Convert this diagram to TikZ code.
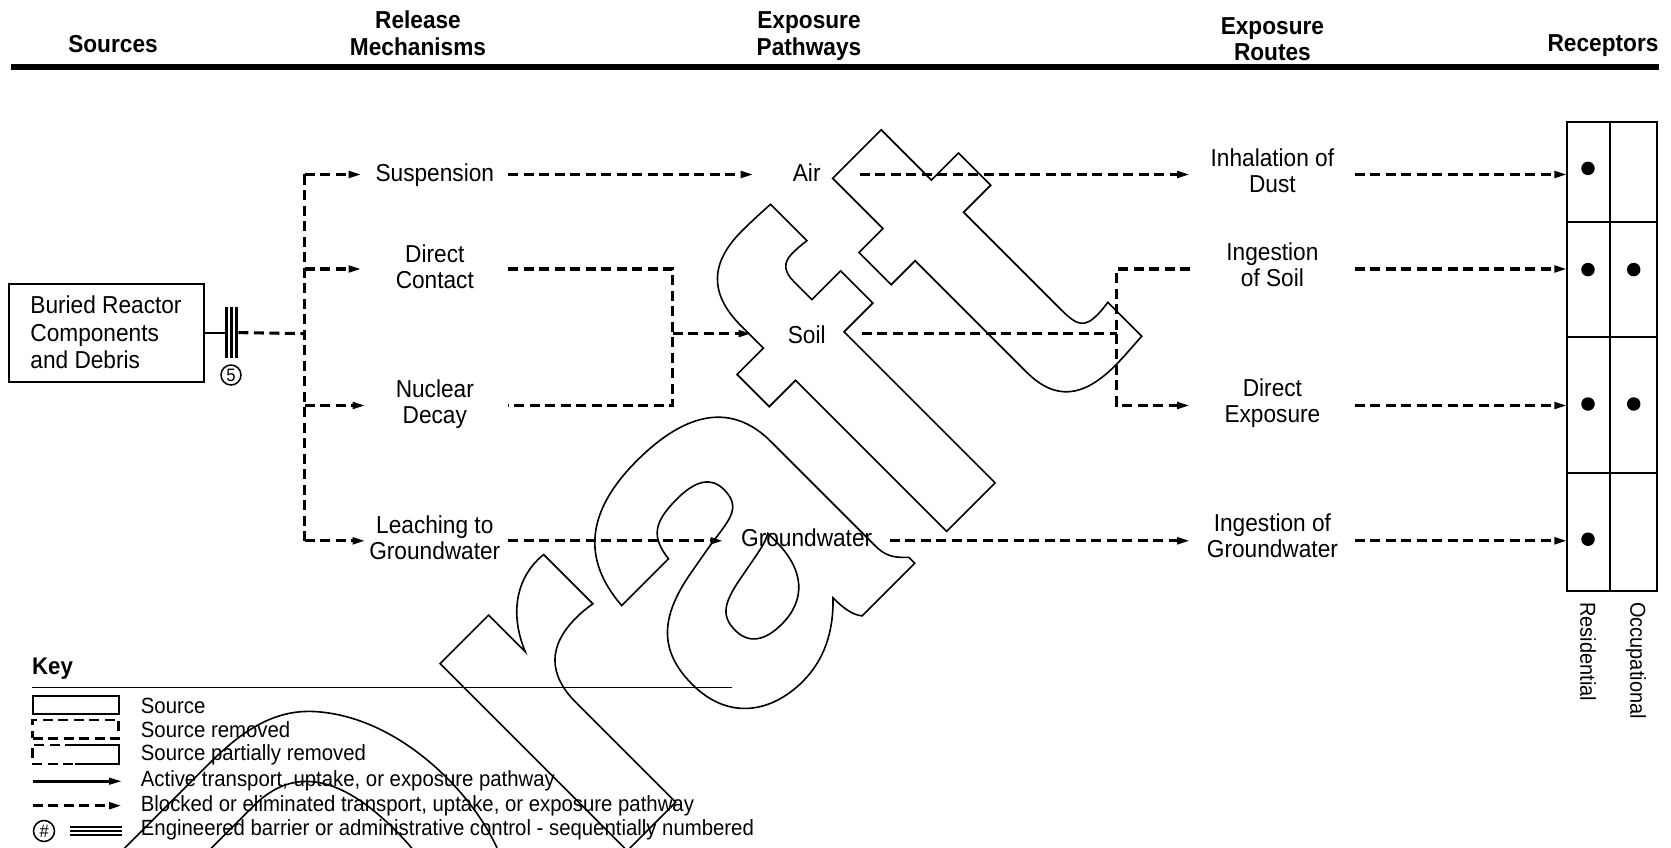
\documentclass[tikz,border=0pt]{standalone}
\usepackage{fontspec}
\setmainfont{Liberation Sans}[FakeStretch=0.925]
\newfontfamily\wmfont{TeX Gyre Heros}
\usetikzlibrary{arrows.meta}
% stroke-only text for the watermark
\newcommand\outlined[1]{\special{pdf:literal direct 1 Tr 1.6 w}#1\special{pdf:literal direct 0 Tr}}

\begin{document}
\begin{tikzpicture}[x=1pt,y=-1pt,
  body/.style={font=\fontsize{24.5}{26}\selectfont, align=center, inner sep=0pt},
  head/.style={font=\bfseries\fontsize{24.5}{26.7}\selectfont, align=center, inner sep=0pt},
  keytext/.style={font=\fontsize{22}{24}\selectfont, anchor=west, inner sep=0pt},
  relcol/.style={body, minimum width=146pt},
  routecol/.style={body, minimum width=164pt},
  dl/.style={line width=3.1pt, dash pattern=on 10pt off 5.5pt},
  dla/.style={dl, -{Triangle[length=13pt,width=6.5pt]}},
  sla/.style={line width=2.6pt, -{Triangle[length=13pt,width=6.5pt]}},
  solidline/.style={line width=2pt},
  gridline/.style={line width=2pt},
  dot/.style={circle, fill, inner sep=0pt, minimum size=13.5pt},
  numcirc/.style={circle, draw, line width=1.5pt, inner sep=0pt, minimum size=20pt},
]
\useasboundingbox (0,0) rectangle (1671,848);

% watermark
\begin{scope}
  \clip (0,0) rectangle (1671,848);
  \node[rotate=45, anchor=base west, inner sep=0pt,
        font=\wmfont\bfseries\fontsize{490}{490}\selectfont] (wm) at (337.4,1140.6)
        {\outlined{D\kern25pt r\kern-10pt a\kern-15pt ft}};
\end{scope}

% column headings
\node[head] (hsrc)   at (113,44)     {Sources};
\node[head] (hrel)   at (418,33.5)   {Release\\Mechanisms};
\node[head] (hpath)  at (809,36.3)   {Exposure\\Pathways};
\node[head] (hroute) at (1272.4,39.3){Exposure\\Routes};
\node[head] (hrec)   at (1603,46)    {Receptors};
\draw[line width=5.5pt] (10.7,67) -- (1659,67);

% row levels of the connectors
\coordinate (r1) at (0,174.5);
\coordinate (r2) at (0,269);
\coordinate (r3) at (0,333.6);
\coordinate (r4) at (0,405.5);
\coordinate (r5) at (0,540.8);

% source and barrier
\node[body, align=left, draw, line width=2pt, minimum width=195pt, minimum height=98pt,
      font=\fontsize{24.5}{27.5}\selectfont] (src) at (106,332.5)
      {Buried Reactor\\Components\\and Debris};
\node[inner sep=0pt, minimum width=13pt, minimum height=51pt] (bar) at (231.7,332.6) {};
\foreach \dx in {1.5,6.5,11.5}
  \draw[line width=2.7pt] ([xshift=\dx pt]bar.north west) -- ([xshift=\dx pt]bar.south west);
\node[numcirc, font=\fontsize{18}{18}\selectfont] (n5) at (231,375) {5};

% release mechanisms
\node[relcol] (susp)  at (434.8,174.8) {Suspension};
\node[relcol] (dcon)  at (434.8,267)   {Direct\\Contact};
\node[relcol] (ndec)  at (434.8,404.5) {Nuclear\\Decay};
\node[relcol] (leach) at (434.8,537.7) {Leaching to\\Groundwater};

% exposure pathways
\node[body, minimum width=106pt] (air)  at (806.7,172.6) {Air};
\node[body, minimum width=110pt] (soil) at (806.7,334.6) {Soil};
\node[body, minimum width=166pt] (gw)   at (806.7,538.2) {Groundwater};

% exposure routes
\node[routecol] (inh)  at (1272.4,170.3) {Inhalation of\\Dust};
\node[routecol] (ings) at (1272.4,264.5) {Ingestion\\of Soil};
\node[routecol] (dexp) at (1272.4,403.5) {Direct\\Exposure};
\node[routecol] (ingw) at (1272.4,535.5) {Ingestion of\\Groundwater};

% receptor table
\node[inner sep=0pt, minimum width=89.6pt, minimum height=467.8pt] (grid) at (1612.4,356.5) {};
\draw[gridline] (grid.north west) rectangle (grid.south east);
\draw[gridline] (1610.3,122.6) -- (1610.3,590.4);
\foreach \yy in {221.7,336.8,473.2}
  \draw[gridline] (1567.6,\yy) -- (1657.2,\yy);
\node[dot] (d1r) at (1588,168.4) {};
\node[dot] (d2r) at (1588,269.6) {};
\node[dot] (d2o) at (1633.7,269.6) {};
\node[dot] (d3r) at (1588,404) {};
\node[dot] (d3o) at (1633.7,404) {};
\node[dot] (d4r) at (1588,539.2) {};
\node[font=\fontsize{21.6}{22}\selectfont, inner sep=0pt, rotate=-90, anchor=west] (resi) at (1588,602) {Residential};
\node[font=\fontsize{21.6}{22}\selectfont, inner sep=0pt, rotate=-90, anchor=west] (occu) at (1636,602) {Occupational};

% source to release mechanisms
\coordinate (ttop) at (304.8,174.5);
\coordinate (tj)   at (304.8,333.6);
\coordinate (tbot) at (304.8,540.8);
\draw[solidline] (src.east |- bar.west) -- (bar.west);
\draw[dl] (bar.east) -- (tj);
\draw[dl] (ttop) -- (tbot);
\draw[dla] (ttop) -- (susp.west |- r1);
\draw[dla] (ttop |- r2) -- (dcon.west |- r2);
\draw[dla] (ttop |- r4) -- ([xshift=4pt]ndec.west |- r4);
\draw[dla] (tbot) -- ([xshift=4pt]leach.west |- r5);

% release mechanisms to exposure pathways
\coordinate (j1) at (672.5,333.6);
\draw[dla] (susp.east |- r1) -- (air.west |- r1);
\draw[dl] (dcon.east |- r2) -| (j1) |- (ndec.east |- r4);
\draw[dla] (j1) -- (soil.west |- r3);
\draw[dla] (leach.east |- r5) -- (gw.west |- r5);

% exposure pathways to exposure routes
\coordinate (j2) at (1116.7,333.6);
\draw[dla] (air.east |- r1) -- (inh.west |- r1);
\draw[dl] (soil.east |- r3) -- (j2);
\draw[dl] (ings.west |- r2) -| (j2);
\draw[dla] (j2) |- (dexp.west |- r4);
\draw[dla] (gw.east |- r5) -- (ingw.west |- r5);

% exposure routes to receptors
\draw[dla] (inh.east |- r1)  -- (grid.west |- r1);
\draw[dla] (ings.east |- r2) -- (grid.west |- r2);
\draw[dla] (dexp.east |- r4) -- (grid.west |- r4);
\draw[dla] (ingw.east |- r5) -- (grid.west |- r5);

% key
\node[font=\bfseries\fontsize{24}{26}\selectfont, anchor=west, inner sep=0pt] (key) at (32,669) {Key};
\draw[line width=1.8pt] (32,687.4) -- (732,687.4);
\node[draw, line width=2pt, inner sep=0pt, minimum width=86pt, minimum height=18.5pt] (k1) at (75.5,704.8) {};
\node[draw, dl, line width=2.4pt, inner sep=0pt, minimum width=86pt, minimum height=18.5pt] (k2) at (75.5,729.2) {};
\node[inner sep=0pt, minimum width=86pt, minimum height=18.5pt] (k3) at (75.5,754.3) {};
\draw[line width=2pt] ([xshift=43pt]k3.north west) -- (k3.north east) -- (k3.south east) -- ([xshift=43pt]k3.south west);
\draw[dl, line width=2.4pt] ([xshift=43pt]k3.north west) -- (k3.north west) -- (k3.south west) -- ([xshift=43pt]k3.south west);
\coordinate (k4a) at (32.5,781.2);
\coordinate (k4b) at (122,781.2);
\draw[sla] (k4a) -- (k4b);
\coordinate (k5a) at (32.5,805.7);
\coordinate (k5b) at (122,805.7);
\draw[dla] (k5a) -- (k5b);
\node[numcirc, minimum size=21pt, font=\itshape\fontsize{18}{18}\selectfont] (k6) at (44,831) {\#};
\foreach \yy in {827,831,835}
  \draw[line width=2pt] (70,\yy) -- (122,\yy);
\node[keytext] (t1) at (140.7,705.5) {Source};
\node[keytext] (t2) at (140.7,730)   {Source removed};
\node[keytext] (t3) at (140.7,754.5) {Source partially removed};
\node[keytext] (t4) at (140.7,781)   {Active transport, uptake, or exposure pathway};
\node[keytext] (t5) at (140.7,805.7) {Blocked or eliminated transport, uptake, or exposure pathway};
\node[keytext] (t6) at (140.7,830)   {Engineered barrier or administrative control - sequentially numbered};
\end{tikzpicture}
\end{document}
